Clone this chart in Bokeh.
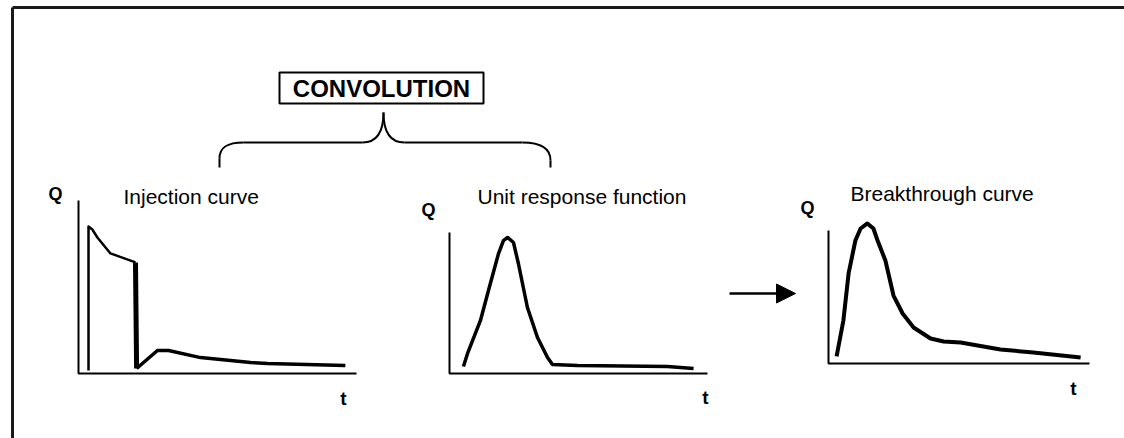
from bokeh.plotting import figure
from bokeh.models import Range1d, Arrow, NormalHead
from bokeh.embed import file_html
from bokeh.resources import INLINE
from bokeh.core.properties import value

# ---------------- data (t: 0-100 along each time axis, Q: 0-100 along each Q axis) ----------------
inj_t = [3.6, 3.6, 5.0, 6.8, 11.5, 20.5, 20.9, 28.4, 32.4, 43.9, 61.9, 68.0, 96.0]
inj_q = [1.7, 85.0, 83.2, 78.6, 69.4, 64.2, 2.9, 13.3, 13.3, 9.2, 6.4, 5.8, 4.6]

urf_t = [5.4, 7.0, 12.0, 15.1, 19.0, 20.9, 22.5, 24.8, 26.7, 30.2, 34.1, 38.0, 39.9, 49.6, 84.5, 94.6]
urf_q = [5.0, 14.2, 37.6, 58.9, 85.1, 94.3, 96.5, 92.9, 78.0, 46.8, 25.5, 11.3, 6.4, 5.7, 5.0, 3.5]

btc_t = [3.1, 5.7, 7.7, 10.3, 12.3, 14.9, 17.2, 18.8, 21.8, 24.9, 28.4, 32.6, 39.1, 44.1, 50.6, 65.9, 78.5, 96.6]
btc_q = [5.3, 32.3, 67.7, 92.5, 101.5, 105.3, 101.5, 92.5, 77.4, 51.1, 37.6, 27.1, 18.8, 16.5, 15.8, 10.5, 8.3, 4.5]

titles = ["Injection curve", "Unit response function", "Breakthrough curve"]
q_label = "Q"
t_label = "t"
conv_label = "CONVOLUTION"

# ---------------- layout (page pixels) ----------------
FX0, FX1 = 0, 1124
FY0, FY1 = 0, 438
# origin x, origin y, axis length, axis height
panels = [(78, 373, 278, 173), (449, 373, 258, 141), (828, 363, 261, 133)]
title_pos = [(123, 196), (477, 196), (850, 193)]
q_pos = [(55, 193), (428, 209), (807, 207)]
t_pos = [(343, 398), (705, 397), (1073, 388)]

FONT = value("Liberation Sans")

p = figure(width=FX1 - FX0, height=FY1 - FY0,
           x_range=Range1d(FX0, FX1), y_range=Range1d(FY1, FY0),
           output_backend="svg", toolbar_location=None, min_border=0,
           x_axis_type=None, y_axis_type=None)
p.outline_line_color = None
p.background_fill_color = "white"
p.border_fill_color = "white"

for i, (x0, y0, L, H) in enumerate(panels):
    p.extra_x_ranges[f"t{i}"] = Range1d((FX0 - x0) / L * 100, (FX1 - x0) / L * 100)
    p.extra_y_ranges[f"q{i}"] = Range1d((y0 - FY1) / H * 100, (y0 - FY0) / H * 100)
    # axes
    p.line([0, 0, 100], [100, 0, 0], x_range_name=f"t{i}", y_range_name=f"q{i}",
           line_color="black", line_width=2)

# frame (left and top edges visible)
p.line([12, 12], [FY1, 7], line_color="#1a1a1a", line_width=3)
p.line([12, FX1], [7, 7], line_color="#1a1a1a", line_width=3)

# curves
p.line(inj_t[:6], inj_q[:6], x_range_name="t0", y_range_name="q0",
       line_color="black", line_width=2.5, line_join="round")
p.line(inj_t[5:7], inj_q[5:7], x_range_name="t0", y_range_name="q0",
       line_color="black", line_width=5)
p.line(inj_t[6:], inj_q[6:], x_range_name="t0", y_range_name="q0",
       line_color="black", line_width=3.5, line_join="round")

p.line(urf_t, urf_q, x_range_name="t1", y_range_name="q1",
       line_color="black", line_width=3.5, line_join="round")
p.line(btc_t, btc_q, x_range_name="t2", y_range_name="q2",
       line_color="black", line_width=4, line_join="round")

# labels
p.text([x for x, _ in title_pos], [y for _, y in title_pos], text=titles,
       text_font=FONT, text_font_size="21px", text_align="left",
       text_baseline="middle", text_color="black")
p.text([x for x, _ in q_pos], [y for _, y in q_pos], text=[q_label] * 3,
       text_font=FONT, text_font_size="18px", text_font_style="bold",
       text_align="center", text_baseline="middle", text_color="black")
p.text([x for x, _ in t_pos], [y for _, y in t_pos], text=[t_label] * 3,
       text_font=FONT, text_font_size="19px", text_font_style="bold",
       text_align="center", text_baseline="middle", text_color="black")

# CONVOLUTION box
p.quad(left=[279], right=[483], top=[72], bottom=[103], fill_color="white",
       line_color="black", line_width=2)
p.text([381], [88], text=[conv_label], text_font=FONT, text_font_size="24px",
       text_font_style="bold", text_align="center", text_baseline="middle",
       text_color="black")

# brace
p.segment([219, 243, 404, 550], [167, 142, 142, 160], [219, 362, 522, 550], [158, 142, 142, 167],
          line_color="black", line_width=2)
p.bezier(x0=[219, 362, 383, 522], y0=[158, 142, 112, 142],
         x1=[243, 383, 404, 550], y1=[142, 112, 142, 160],
         cx0=[219, 377, 383, 540], cy0=[146, 142, 130, 142],
         cx1=[228, 383, 389, 550], cy1=[142, 130, 142, 148],
         line_color="black", line_width=2)

# arrow between panels
p.add_layout(Arrow(end=NormalHead(size=19, fill_color="black", line_color="black"),
                   x_start=729, y_start=293, x_end=795, y_end=293,
                   line_color="black", line_width=2.5))

open("out.html", "w").write(file_html(p, INLINE))
